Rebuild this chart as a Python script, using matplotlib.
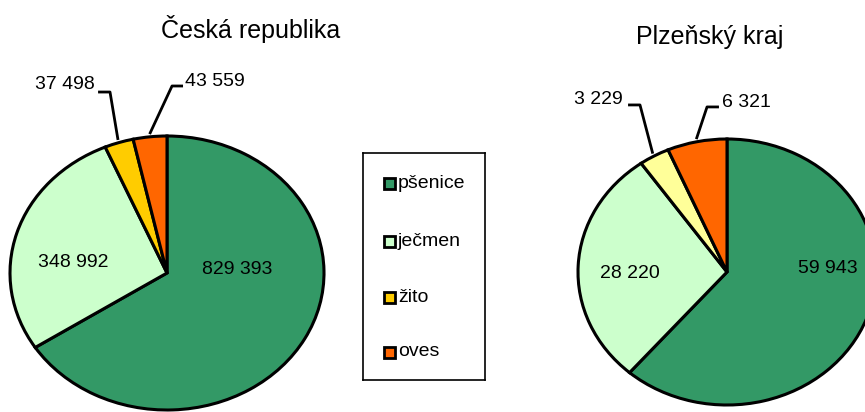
import numpy as np
import matplotlib
matplotlib.use("Agg")
import matplotlib.pyplot as plt
from matplotlib.patches import Rectangle

plt.rcParams["font.family"] = ["Liberation Sans", "DejaVu Sans"]

W, H = 865, 412

categories = ["pšenice", "ječmen", "žito", "oves"]
cr_values = [829393, 348992, 37498, 43559]
pk_values = [59943, 28220, 3229, 6321]
cr_colors = ["#339966", "#CCFFCC", "#FFCC00", "#FF6600"]
pk_colors = ["#339966", "#CCFFCC", "#FFFF99", "#FF6600"]
titles = ["Česká republika", "Plzeňský kraj"]


def fmt(v):
    return f"{v:,}".replace(",", " ")


def pie_axes(cx, cy, rx, ry):
    # ellipse bounding box in pixels -> axes filling it with limits -1..1
    return fig.add_axes([(cx - rx) / W, (H - cy - ry) / H, 2 * rx / W, 2 * ry / H])


def draw_pie(ax, values, colors, inside, outside):
    wedges, _ = ax.pie(values, colors=colors, startangle=90, counterclock=False,
                       radius=1.0,
                       wedgeprops=dict(edgecolor="black", linewidth=2.2))
    ax.set_aspect("auto")
    ax.set_xlim(-1, 1)
    ax.set_ylim(-1, 1)
    ax.axis("off")
    for w in wedges:
        w.set_clip_on(False)
    for i, (x, y) in inside.items():
        ax.text(x, y, fmt(values[i]), ha="center", va="center", fontsize=14)
    for i, (ex, ey, hx, tx, ty, ha) in outside.items():
        w = wedges[i]
        mid = np.deg2rad(0.5 * (w.theta1 + w.theta2))
        sx, sy = 1.02 * np.cos(mid), 1.02 * np.sin(mid)
        ax.plot([sx, ex, hx], [sy, ey, ey], color="black", lw=2.0,
                clip_on=False, solid_capstyle="butt")
        ax.text(tx, ty, fmt(values[i]), ha=ha, va="center", fontsize=14)


fig = plt.figure(figsize=(W / 100, H / 100), dpi=100)

ax1 = pie_axes(167, 273, 157, 137)
draw_pie(ax1, cr_values, cr_colors,
         inside={0: (0.446, 0.029), 1: (-0.599, 0.080)},
         outside={2: (-0.363, 1.321, -0.439, -0.459, 1.375, "right"),
                  3: (0.032, 1.365, 0.102, 0.115, 1.397, "left")})

ax2 = pie_axes(727, 272, 149, 133)
draw_pie(ax2, pk_values, pk_colors,
         inside={0: (0.678, 0.023), 1: (-0.651, -0.008)},
         outside={2: (-0.584, 1.256, -0.664, -0.698, 1.296, "right"),
                  3: (-0.134, 1.241, -0.054, -0.034, 1.274, "left")})

fig.text(251 / W, 1 - 29 / H, titles[0], ha="center", va="center", fontsize=18)
fig.text(710 / W, 1 - 37 / H, titles[1], ha="center", va="center", fontsize=18)

# legend box
lx0, ly0, lx1, ly1 = 363, 153, 485, 380
lax = fig.add_axes([lx0 / W, (H - ly1) / H, (lx1 - lx0) / W, (ly1 - ly0) / H])
lax.set_xlim(0, lx1 - lx0)
lax.set_ylim(ly1 - ly0, 0)
lax.set_xticks([])
lax.set_yticks([])
for s in lax.spines.values():
    s.set_linewidth(1.2)
entry_y = [30, 88, 144, 199]
for name, col, y in zip(categories, cr_colors, entry_y):
    lax.add_patch(Rectangle((21, y - 5.5), 11, 11, facecolor=col,
                            edgecolor="black", linewidth=2.0))
    lax.text(35, y, name, ha="left", va="center", fontsize=14)

fig.savefig("out.png", dpi=100)
